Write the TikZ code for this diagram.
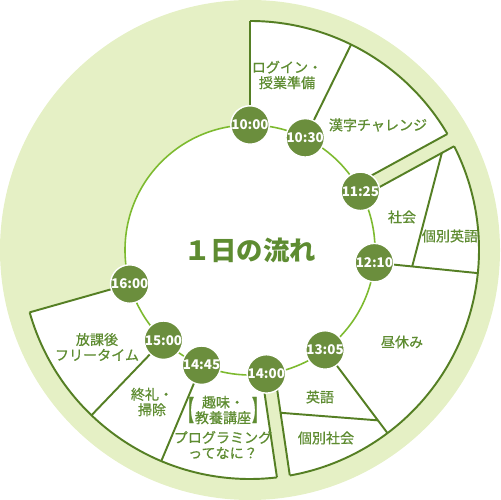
\documentclass[tikz,border=0pt]{standalone}
\usepackage{fontspec}
\setmainfont{Noto Sans CJK JP}
\newfontfamily\jpmed{Noto Sans CJK JP}[FakeBold=0.6]
\usepackage{graphicx}
\usetikzlibrary{positioning}
\definecolor{FlowRing}{HTML}{E5F0C5}
\definecolor{FlowLine}{HTML}{557F24}
\definecolor{FlowNode}{HTML}{6B8E3D}
\definecolor{FlowText}{HTML}{5E8C31}
\definecolor{FlowCircle}{HTML}{7DBA2F}

\begin{document}
\begin{tikzpicture}[scale=0.02,
    timept/.style={circle,fill=FlowNode,draw=white,line width=0.8pt,minimum size=0.74cm,inner sep=0pt,text=white,font=\fontsize{7.6}{8}\selectfont\bfseries},
    segline/.style={draw=FlowLine,line width=1.1pt},
    seglabel/.style={text=FlowText,font=\fontsize{8}{8.8}\selectfont\jpmed,align=center,inner sep=0pt}
  ]
    \useasboundingbox (-250,-250) rectangle (250,250);
    % ring and white sectors
    \fill[FlowRing] (0,0) circle[radius=250];
    \fill[white] (0,0) -- (90:229) arc[start angle=90,end angle=-164.2,radius=229] -- cycle;
    \fill[FlowRing,rotate=28.7] (118,-7) rectangle (245,7);
    \fill[FlowRing,rotate=-81.6] (118,-6.5) rectangle (245,6.5);
    \draw[FlowCircle,line width=0.9pt,fill=white] (0,0) circle[radius=125];
    % gaps at 11:25 and 14:00
    \begin{scope}[rotate=28.7]
      \coordinate (ga1) at (120,7);  \coordinate (ga2) at (228.9,7);
      \coordinate (gb1) at (120,-7); \coordinate (gb2) at (228.9,-7);
      \coordinate (cA) at (215,-7);
    \end{scope}
    \begin{scope}[rotate=-81.6]
      \coordinate (gc1) at (120,6.5);  \coordinate (gc2) at (228.9,6.5);
      \coordinate (gd1) at (120,-6.5); \coordinate (gd2) at (228.9,-6.5);
      \coordinate (eA) at (165.6,6.5);
    \end{scope}
    \foreach \p/\q in {ga1/ga2,gb1/gb2,gc1/gc2,gd1/gd2}
      \draw[segline] (\p) -- (\q);
    % time points
    \foreach \a/\t/\n in {90/10:00/a,63.8/10:30/b,28/11:25/c,-5.8/12:10/d,-53.1/13:05/e,-82.5/14:00/f,-112.8/14:45/g,-133.8/15:00/h,-164.2/16:00/i}
      \node[timept] (t\n) at (\a:125) {\t};
    \foreach \n/\a in {a/90,b/63.8,d/-5.8,e/-53.1,g/-112.8,h/-133.8,i/-164.2}{
      \coordinate (o\n) at (\a:229);
      \draw[segline] (t\n) -- (o\n);
    }
    \coordinate (cB) at (-5.8:163);
    \coordinate (eB) at (-53.1:213);
    \draw[segline] (cA) -- (cB);
    \draw[segline] (eA) -- (eB);
    \draw[segline] (90:229) arc[start angle=90,end angle=30.45,radius=229];
    \draw[segline] (26.95:229) arc[start angle=26.95,end angle=-79.97,radius=229];
    \draw[segline] (-83.23:229) arc[start angle=-83.23,end angle=-164.2,radius=229];
    % labels
    \node[seglabel] (login) at (37,175) {ログイン・\\授業準備};
    \node[seglabel] (kanji) at (128,125) {漢字チャレンジ};
    \node[seglabel] (shakai) at (152,33) {社会};
    \node[seglabel] (kobetsuE) at (200,14) {個別英語};
    \node[seglabel] (hiru) at (152,-92) {昼休み};
    \node[seglabel] (eigo) at (70,-147) {英語};
    \node[seglabel] (kobetsuS) at (76,-188) {個別社会};
    \node[seglabel] (shumi) at (-27,-160) {趣味・\\教養講座};
    \node[seglabel,left=0pt of shumi] {\scalebox{1}[2]{【}};
    \node[seglabel,right=0pt of shumi] {\scalebox{1}[2]{】}};
    \node[seglabel] (prog) at (-27,-195) {プログラミング\\ってなに？};
    \node[seglabel] (shurei) at (-98,-152) {終礼・\\掃除};
    \node[seglabel] (houkago) at (-153,-97) {放課後\\フリータイム};
    \node[text=FlowText,font=\fontsize{15}{17}\selectfont\bfseries] (title) at (0,0) {１日の流れ};
  \end{tikzpicture}
\end{document}
